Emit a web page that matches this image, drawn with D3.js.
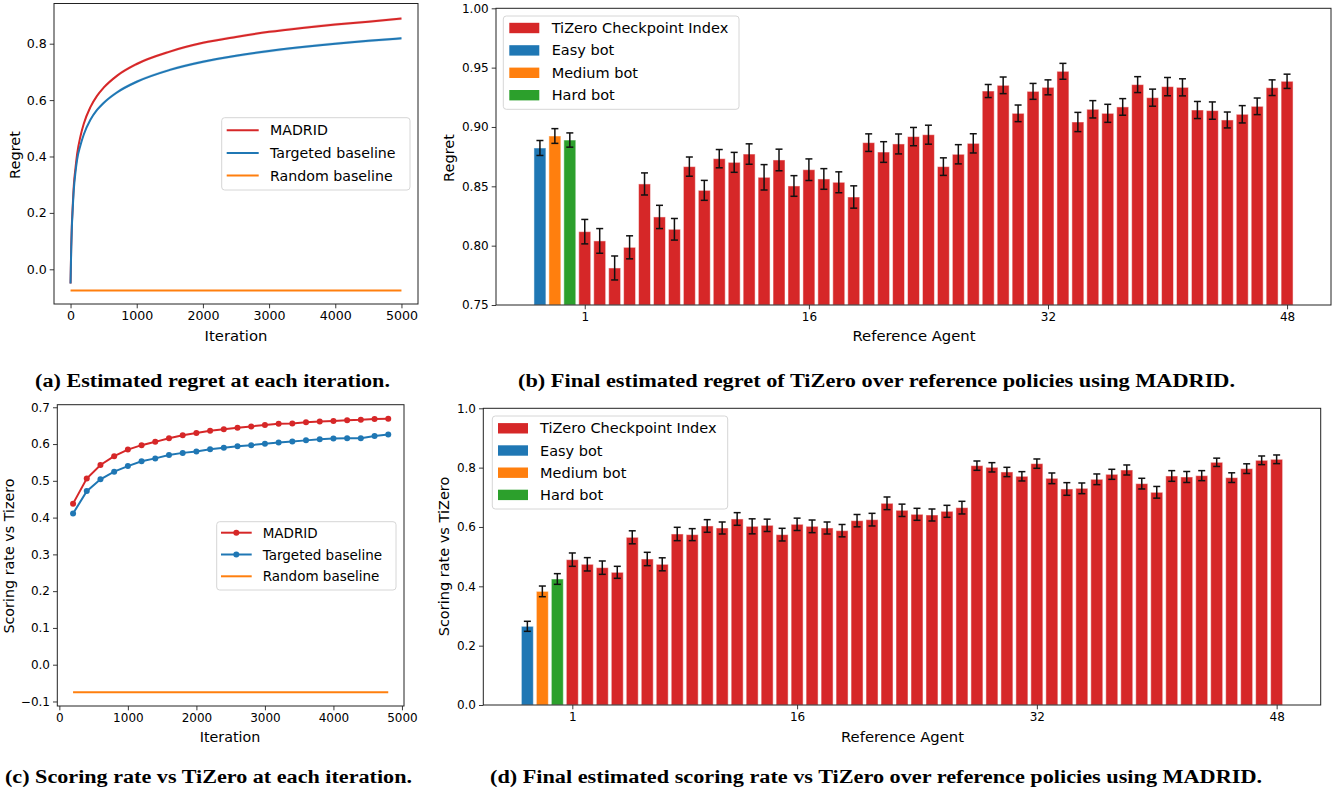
<!DOCTYPE html>
<html><head><meta charset="utf-8">
<script src="https://cdn.jsdelivr.net/npm/d3@7"></script>
<style>body{margin:0;background:#fff}svg{display:block}text{font-family:"DejaVu Sans",sans-serif;fill:#000}</style>
</head><body>
<script>
// ---------- Data ----------
// (a) regret per iteration
const regretIters    = [0, 10, 20, 30, 50, 75, 100, 150, 200, 300, 400, 500, 700, 1000, 1500, 2000, 2500, 3000, 3500, 4000, 4500, 5000];
const regretMadrid   = [-0.05, 0.08, 0.16, 0.21, 0.30, 0.36, 0.41, 0.472, 0.516, 0.575, 0.615, 0.644, 0.686, 0.728, 0.772, 0.803, 0.824, 0.842, 0.856, 0.868, 0.878, 0.889];
const regretTargeted = [-0.05, 0.07, 0.15, 0.20, 0.285, 0.345, 0.39, 0.44, 0.478, 0.53, 0.565, 0.59, 0.627, 0.665, 0.707, 0.736, 0.757, 0.774, 0.788, 0.800, 0.810, 0.819];
const regretRandomIters = [0, 5000];
const regretRandom      = [-0.075, -0.075];

// (c) scoring rate per iteration
const scoreIters    = [200, 400, 600, 800, 1000, 1200, 1400, 1600, 1800, 2000, 2200, 2400, 2600, 2800, 3000, 3200, 3400, 3600, 3800, 4000, 4200, 4400, 4600, 4800];
const scoreMadrid   = [0.438, 0.506, 0.543, 0.567, 0.585, 0.597, 0.606, 0.616, 0.624, 0.630, 0.636, 0.640, 0.644, 0.648, 0.652, 0.655, 0.656, 0.659, 0.661, 0.663, 0.665, 0.666, 0.668, 0.669];
const scoreTargeted = [0.411, 0.472, 0.504, 0.525, 0.540, 0.553, 0.561, 0.570, 0.576, 0.580, 0.586, 0.590, 0.594, 0.597, 0.601, 0.604, 0.607, 0.610, 0.613, 0.615, 0.616, 0.616, 0.622, 0.626];
const scoreRandomIters = [200, 4800];
const scoreRandom      = [-0.075, -0.075];

// (b),(d) reference agents
const botNames = ["Easy bot", "Medium bot", "Hard bot"];
const botPositions = [-2, -1, 0];
const botRegret    = [0.8823, 0.8924, 0.889];
const botRegretErr = [0.0063, 0.0062, 0.006];
const botScore     = [0.2652, 0.383, 0.4247];
const botScoreErr  = [0.0169, 0.018, 0.018];

const checkpointRegret = [0.8118, 0.804, 0.7812, 0.7986, 0.852, 0.8242, 0.8138, 0.8666, 0.8466, 0.8733, 0.8702, 0.8772, 0.8576, 0.8722, 0.8503, 0.864, 0.8562, 0.8534, 0.841, 0.8868, 0.8789, 0.8857, 0.8919, 0.8935, 0.8666, 0.877, 0.8862, 0.9303, 0.9351, 0.9115, 0.93, 0.9334, 0.9469, 0.9042, 0.9149, 0.9115, 0.9169, 0.9357, 0.9247, 0.934, 0.9334, 0.9143, 0.9138, 0.9059, 0.9107, 0.9174, 0.9331, 0.9385];
const checkpointRegretErr = [0.0103, 0.0104, 0.0101, 0.0097, 0.0093, 0.0098, 0.0091, 0.0081, 0.0084, 0.0077, 0.0084, 0.0086, 0.0107, 0.0091, 0.0087, 0.0091, 0.0087, 0.0088, 0.0094, 0.0074, 0.0087, 0.0084, 0.0077, 0.008, 0.0074, 0.0081, 0.0081, 0.0055, 0.007, 0.007, 0.0067, 0.0063, 0.0067, 0.0081, 0.0073, 0.0076, 0.007, 0.0067, 0.0072, 0.0077, 0.0072, 0.0072, 0.0073, 0.0067, 0.0073, 0.007, 0.0066, 0.006];
const checkpointScore = [0.4899, 0.4742, 0.4629, 0.4472, 0.5652, 0.4921, 0.4742, 0.5764, 0.5742, 0.6034, 0.5966, 0.627, 0.6022, 0.6056, 0.5742, 0.609, 0.6022, 0.5966, 0.5876, 0.6213, 0.6247, 0.6798, 0.6562, 0.6427, 0.6404, 0.6528, 0.6652, 0.8067, 0.8011, 0.7854, 0.7708, 0.8135, 0.764, 0.7281, 0.7303, 0.7607, 0.7775, 0.7921, 0.7461, 0.7169, 0.7719, 0.7685, 0.773, 0.818, 0.7663, 0.7966, 0.8247, 0.8281];
const checkpointScoreErr = [0.0225, 0.0225, 0.0225, 0.0202, 0.0219, 0.0225, 0.0219, 0.0225, 0.0202, 0.0213, 0.0202, 0.0213, 0.0253, 0.0208, 0.0213, 0.0208, 0.0213, 0.0202, 0.0208, 0.0208, 0.0213, 0.0213, 0.0208, 0.0202, 0.0202, 0.0202, 0.0213, 0.0157, 0.0157, 0.0157, 0.0157, 0.0157, 0.018, 0.0213, 0.018, 0.018, 0.0169, 0.0169, 0.018, 0.0197, 0.018, 0.0185, 0.0169, 0.014, 0.0163, 0.0163, 0.0146, 0.0146];
const agentTicks = [1, 16, 32, 48];

const lineLegend = ["MADRID", "Targeted baseline", "Random baseline"];
const barLegend = ["TiZero Checkpoint Index", "Easy bot", "Medium bot", "Hard bot"];
const captions = [
  "(a) Estimated regret at each iteration.",
  "(b) Final estimated regret of TiZero over reference policies using MADRID.",
  "(c) Scoring rate vs TiZero at each iteration.",
  "(d) Final estimated scoring rate vs TiZero over reference policies using MADRID."
];

// ---------- Styles ----------
const C = {red: "#d62728", blue: "#1f77b4", orange: "#ff7f0e", green: "#2ca02c"};
const botColors = [C.blue, C.orange, C.green];

const svg = d3.select("body").append("svg").attr("width", 1336).attr("height", 795);

function frame(g, x, y, fs, yfmt, xticks, yticks, xfmt) {
  const [x0, x1] = x.range(), [y0, y1] = y.range();
  const ax = g.append("g").attr("transform", `translate(0,${y0})`)
    .call(d3.axisBottom(x).tickValues(xticks).tickSize(4.3).tickPadding(3).tickFormat(xfmt || d3.format("d")));
  const ay = g.append("g").attr("transform", `translate(${x0},0)`)
    .call(d3.axisLeft(y).tickValues(yticks).tickSize(4.3).tickPadding(3).tickFormat(d3.format(yfmt)));
  [ax, ay].forEach(a => {
    a.select(".domain").remove();
    a.selectAll("line").attr("stroke", "#222").attr("stroke-width", 0.9);
    a.selectAll("text").attr("font-size", fs).attr("font-family", "DejaVu Sans").attr("fill", "#111");
  });
  g.append("rect").attr("x", x0).attr("y", y1).attr("width", x1 - x0).attr("height", y0 - y1)
    .attr("fill", "none").attr("stroke", "#222").attr("stroke-width", 1);
}

function label(g, text, x, y, fs, rotate) {
  g.append("text").attr("x", x).attr("y", y).attr("font-size", fs).attr("text-anchor", "middle")
    .attr("dominant-baseline", "central").attr("fill", "#111")
    .attr("transform", rotate ? `rotate(-90,${x},${y})` : null).text(text);
}

function legendBox(g, x, y, w, h) {
  g.append("rect").attr("x", x).attr("y", y).attr("width", w).attr("height", h).attr("rx", 3)
    .attr("fill", "#fff").attr("fill-opacity", 0.85).attr("stroke", "#d6d6d6").attr("stroke-width", 1);
}

// ---------- (a) ----------
{
  const g = svg.append("g");
  const x = d3.scaleLinear().domain([-250, 5250]).range([54, 418]);
  const y = d3.scaleLinear().domain([-0.123, 0.9425]).range([304, 3.5]);
  const line = d3.line().curve(d3.curveMonotoneX);
  const pts = (xs, ys) => xs.map((v, i) => [x(v), y(ys[i])]);
  const area = d3.area().curve(d3.curveMonotoneX).x((d, i) => x(regretIters[i]))
    .y0(d => y(d - 0.005)).y1(d => y(d + 0.005));
  g.append("path").attr("d", area(regretTargeted)).attr("fill", C.blue).attr("opacity", 0.25);
  g.append("path").attr("d", area(regretMadrid)).attr("fill", C.red).attr("opacity", 0.2);
  g.append("path").attr("d", line(pts(regretRandomIters, regretRandom))).attr("stroke", C.orange).attr("stroke-width", 2).attr("fill", "none");
  g.append("path").attr("d", line(pts(regretIters, regretMadrid))).attr("stroke", C.red).attr("stroke-width", 2).attr("fill", "none");
  g.append("path").attr("d", line(pts(regretIters, regretTargeted))).attr("stroke", C.blue).attr("stroke-width", 2).attr("fill", "none");
  frame(g, x, y, 12.6, ".1f", [0, 1000, 2000, 3000, 4000, 5000], [0, 0.2, 0.4, 0.6, 0.8]);
  label(g, "Regret", 14.5, 155, 14.5, true);
  label(g, "Iteration", 236, 335, 14.8);
  legendBox(g, 221.7, 117.7, 188.3, 72.3);
  const cols = [C.red, C.blue, C.orange];
  lineLegend.forEach((t, i) => {
    const yy = 130.3 + i * 22.6;
    g.append("line").attr("x1", 226.7).attr("x2", 258.7).attr("y1", yy).attr("y2", yy).attr("stroke", cols[i]).attr("stroke-width", 2);
    g.append("text").attr("x", 270).attr("y", yy).attr("dominant-baseline", "central").attr("font-size", 14.2).attr("fill", "#111").text(t);
  });
}

// ---------- (c) ----------
{
  const g = svg.append("g");
  const x = d3.scaleLinear().domain([-30, 5030]).range([57.3, 404]);
  const y = d3.scaleLinear().domain([-0.1123, 0.707]).range([706, 404.7]);
  const line = d3.line();
  const pts = (xs, ys) => xs.map((v, i) => [x(v), y(ys[i])]);
  g.append("path").attr("d", line(pts(scoreRandomIters, scoreRandom))).attr("stroke", C.orange).attr("stroke-width", 2).attr("fill", "none");
  [[scoreMadrid, C.red], [scoreTargeted, C.blue]].forEach(([vals, col]) => {
    g.append("path").attr("d", line(pts(scoreIters, vals))).attr("stroke", col).attr("stroke-width", 2).attr("fill", "none");
    g.selectAll(null).data(vals).enter().append("circle")
      .attr("cx", (d, i) => x(scoreIters[i])).attr("cy", d => y(d)).attr("r", 3).attr("fill", col);
  });
  frame(g, x, y, 12, ".1f", [0, 1000, 2000, 3000, 4000, 5000], [-0.1, 0, 0.1, 0.2, 0.3, 0.4, 0.5, 0.6, 0.7]);
  label(g, "Scoring rate vs Tizero", 9, 556, 14.3, true);
  label(g, "Iteration", 230, 736.5, 14.3);
  legendBox(g, 216.7, 521.7, 179.3, 68.3);
  const cols = [C.red, C.blue, C.orange];
  lineLegend.forEach((t, i) => {
    const yy = 532.7 + i * 21.8;
    g.append("line").attr("x1", 221).attr("x2", 251.7).attr("y1", yy).attr("y2", yy).attr("stroke", cols[i]).attr("stroke-width", 2);
    if (i < 2) g.append("circle").attr("cx", 236.3).attr("cy", yy).attr("r", 3).attr("fill", cols[i]);
    g.append("text").attr("x", 262.7).attr("y", yy).attr("dominant-baseline", "central").attr("font-size", 13.5).attr("fill", "#111").text(t);
  });
}

// ---------- bar panels ----------
function barPanel(cfg) {
  const g = svg.append("g");
  const x = d3.scaleLinear().domain([-4.94, 50.94]).range(cfg.xr);
  const y = d3.scaleLinear().domain(cfg.yd).range(cfg.yr);
  const bw = x(0.8) - x(0);
  const rows = botPositions.map((p, i) => ({p, v: cfg.bot[i], e: cfg.botErr[i], c: botColors[i]}))
    .concat(cfg.cp.map((v, i) => ({p: i + 1, v, e: cfg.cpErr[i], c: C.red})));
  g.selectAll(null).data(rows).enter().append("rect")
    .attr("x", d => x(d.p) - bw / 2).attr("width", bw)
    .attr("y", d => y(d.v)).attr("height", d => y(cfg.yd[0]) - y(d.v))
    .attr("fill", d => d.c).attr("stroke", "#fff").attr("stroke-opacity", 0.5).attr("stroke-width", 1);
  const eb = g.selectAll(null).data(rows).enter().append("g").attr("stroke", "#111").attr("stroke-width", 1.5);
  eb.append("line").attr("x1", d => x(d.p)).attr("x2", d => x(d.p)).attr("y1", d => y(d.v - d.e)).attr("y2", d => y(d.v + d.e));
  eb.append("line").attr("x1", d => x(d.p) - 3.5).attr("x2", d => x(d.p) + 3.5).attr("y1", d => y(d.v - d.e)).attr("y2", d => y(d.v - d.e));
  eb.append("line").attr("x1", d => x(d.p) - 3.5).attr("x2", d => x(d.p) + 3.5).attr("y1", d => y(d.v + d.e)).attr("y2", d => y(d.v + d.e));
  frame(g, x, y, 12, cfg.yfmt, agentTicks, cfg.yticks);
  label(g, cfg.ylabel, cfg.ylx, cfg.yly, 14.5, true);
  label(g, "Reference Agent", cfg.xlx, cfg.xly, 14.8);
  const L = cfg.leg;
  legendBox(g, L.x, L.y, L.w, L.h);
  const cols = [C.red, C.blue, C.orange, C.green];
  barLegend.forEach((t, i) => {
    const yy = L.y0 + i * L.dy;
    g.append("rect").attr("x", L.px).attr("y", yy - 5.2).attr("width", 30).attr("height", 10.4).attr("fill", cols[i]);
    g.append("text").attr("x", L.tx).attr("y", yy).attr("dominant-baseline", "central").attr("font-size", 14.5).attr("fill", "#111").text(t);
  });
}

barPanel({xr: [496, 1331], yd: [0.75, 1.0], yr: [305, 8.3], bot: botRegret, botErr: botRegretErr,
  cp: checkpointRegret, cpErr: checkpointRegretErr, yfmt: ".2f", yticks: [0.75, 0.8, 0.85, 0.9, 0.95, 1.0],
  ylabel: "Regret", ylx: 448.5, yly: 158, xlx: 914, xly: 335,
  leg: {x: 503.3, y: 16, w: 235.7, h: 93.3, y0: 28, dy: 22.4, px: 509.3, tx: 551.7}});

barPanel({xr: [483.3, 1320.7], yd: [0, 1], yr: [705, 408.3], bot: botScore, botErr: botScoreErr,
  cp: checkpointScore, cpErr: checkpointScoreErr, yfmt: ".1f", yticks: [0, 0.2, 0.4, 0.6, 0.8, 1.0],
  ylabel: "Scoring rate vs TiZero", ylx: 444, yly: 556.5, xlx: 902.5, xly: 736,
  leg: {x: 492.3, y: 416, w: 235.4, h: 93, y0: 428.3, dy: 22.2, px: 498, tx: 540}});

// ---------- captions ----------
const capPos = [[35, 387, 355], [518, 387, 717], [5, 783, 407], [490, 783, 772]];
captions.forEach((t, i) => {
  svg.append("text").attr("x", capPos[i][0]).attr("y", capPos[i][1])
    .attr("font-weight", "bold").attr("font-size", 18)
    .attr("textLength", capPos[i][2]).attr("lengthAdjust", "spacingAndGlyphs")
    .style("font-family", "'Liberation Serif', serif").text(t);
});
</script>
</body></html>
